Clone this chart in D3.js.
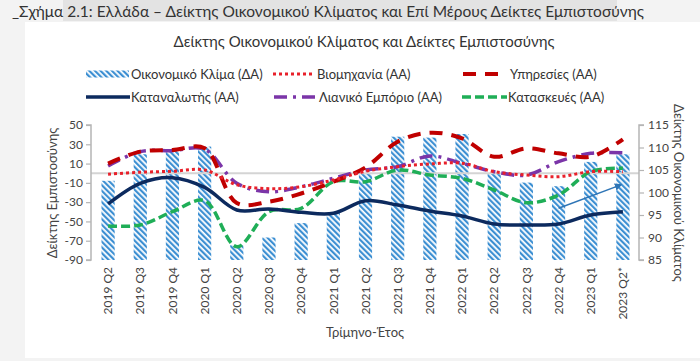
<!DOCTYPE html>
<html><head><meta charset="utf-8">
<script src="https://cdn.jsdelivr.net/npm/d3@7"></script>
<style>
html,body{margin:0;padding:0;background:#f3f3f3;}
svg{display:block;font-family:Lato,"Open Sans",sans-serif;}
</style></head>
<body>
<svg id="c" width="700" height="361"></svg>
<script>
// ---------- data ----------
const categories = ["2019 Q2","2019 Q3","2019 Q4","2020 Q1","2020 Q2","2020 Q3","2020 Q4","2021 Q1","2021 Q2","2021 Q3","2021 Q4","2022 Q1","2022 Q2","2022 Q3","2022 Q4","2023 Q1","2023 Q2*"];
const climate      = [102.6,108.5,109.6,110.2,88.3,90.0,93.2,95.5,104.3,112.4,112.2,113.0,104.3,102.2,101.4,106.8,108.5];
const industry     = [-1,1,2,3.3,-12,-16,-14,-7,2,6.8,9.6,10.3,1.6,-1.9,-3.6,1.6,1.6];
const services     = [10,22.4,24.1,25.8,-31,-29.5,-21,-8.8,6,32.7,42,36.2,17.1,25.8,20.6,17.1,35.2];
const consumer     = [-31.9,-10.5,-4.6,-14.7,-38.1,-37.1,-40.6,-41.6,-28.5,-33,-39.2,-44.4,-52.7,-53.7,-52.7,-43.3,-39.9];
const retail       = [7.5,22.4,23.4,24.8,-10.5,-19.2,-14,-5.3,3.3,6.8,17.9,10.3,1.6,-1.9,12,20.6,21.3];
const construction = [-54.7,-53.7,-39.9,-28.5,-76.2,-39.9,-36.4,-8.8,-8.8,3.3,-1.9,-5.3,-17.4,-30.6,-22.6,1.6,5.1];
const leftTicks  = [50,30,10,-10,-30,-50,-70,-90];
const rightTicks = [115,110,105,100,95,90,85];
const arrowFrom = {cat:"2022 Q4", value:96.5};
const arrowTo   = {cat:"2023 Q2*", value:101.7};

const headerText = "_Σχήμα 2.1: Ελλάδα – Δείκτης Οικονομικού Κλίματος και Επί Μέρους Δείκτες Εμπιστοσύνης";
const titleText  = "Δείκτης Οικονομικού Κλίματος και Δείκτες Εμπιστοσύνης";
const leftTitle  = "Δείκτης Εμπιστοσύνης";
const rightTitle = "Δείκτης Οικονομικού Κλίματος";
const xTitle     = "Τρίμηνο-Έτος";

// ---------- layout ----------
const svg = d3.select("#c");
const L = 92, R = 639, T = 125, B = 260;

svg.append("rect").attr("x",25).attr("y",22).attr("width",675).attr("height",336).attr("fill","#ffffff");
svg.append("rect").attr("x",63).attr("y",0).attr("width",554).attr("height",21).attr("fill","#e3e3e3");
svg.append("text").attr("x",12).attr("y",17).attr("font-size",15.5).attr("fill","#333")
  .text(headerText);
svg.append("text").attr("x",364).attr("y",47).attr("text-anchor","middle").attr("font-size",15).attr("fill","#333")
  .text(titleText);

const defs = svg.append("defs");
const pat = defs.append("pattern").attr("id","hatch").attr("patternUnits","userSpaceOnUse")
  .attr("width",4).attr("height",4).attr("patternTransform","rotate(-45)");
pat.append("rect").attr("width",4).attr("height",4).attr("fill","#ffffff");
pat.append("rect").attr("width",2.2).attr("height",4).attr("fill","#3c8fd2");
defs.append("marker").attr("id","arr").attr("viewBox","0 0 10 10").attr("refX",8).attr("refY",5)
  .attr("markerWidth",5).attr("markerHeight",5).attr("orient","auto")
  .append("path").attr("d","M0,0L10,5L0,10Z").attr("fill","#2e75b6");

const x = d3.scaleBand().domain(categories).range([L,R]).paddingInner(0.59).paddingOuter(0.295);
const cx = c => x(c) + x.bandwidth()/2;
const yL = d3.scaleLinear().domain([-90,50]).range([B,T]);
const yR = d3.scaleLinear().domain([85,115]).range([B,T]);

// bars
svg.append("g").selectAll("rect").data(categories).join("rect")
  .attr("x", c => x(c)).attr("width", x.bandwidth())
  .attr("y", (c,i) => yR(climate[i])).attr("height", (c,i) => yR(85) - yR(climate[i]))
  .attr("fill","url(#hatch)");

// zero line
svg.append("line").attr("x1",L-1).attr("x2",R).attr("y1",yL(0)).attr("y2",yL(0))
  .attr("stroke","#d4d4d4").attr("stroke-width",2);

// axes
const gl = svg.append("g").attr("transform",`translate(${L-1},0)`)
  .call(d3.axisLeft(yL).tickValues(leftTicks).tickSize(5).tickPadding(3).tickFormat(d => String(d)));
const gr = svg.append("g").attr("transform",`translate(${R},0)`)
  .call(d3.axisRight(yR).tickValues(rightTicks).tickSize(5).tickPadding(4).tickFormat(d => String(d)));
[gl,gr].forEach(g=>{
  g.select(".domain").attr("stroke","#b5b5b5").attr("stroke-width",1.5);
  g.selectAll(".tick line").attr("stroke","#b5b5b5").attr("stroke-width",1.2);
  g.selectAll(".tick text").attr("font-size",12).attr("fill","#444").attr("font-family","Lato");
});
gl.select(".domain").attr("d",`M-5,${T}H0V${B}H-5`);
gr.select(".domain").attr("d",`M5,${T}H0V${B}H5`);

// x labels
svg.append("g").selectAll("text").data(categories).join("text")
  .attr("transform", c => `translate(${cx(c)},267) rotate(-90)`)
  .attr("text-anchor","end").attr("dy","0.35em").attr("font-size",12).attr("fill","#444")
  .text(c => c);

// axis titles
svg.append("text").attr("transform","translate(52,193) rotate(-90)").attr("text-anchor","middle")
  .attr("dy","0.35em").attr("font-size",13).attr("fill","#444").text(leftTitle);
svg.append("text").attr("transform","translate(679,193) rotate(90)").attr("text-anchor","middle")
  .attr("dy","0.35em").attr("font-size",13).attr("fill","#444").text(rightTitle);
svg.append("text").attr("x",365).attr("y",337).attr("text-anchor","middle")
  .attr("font-size",13).attr("fill","#444").text(xTitle);

// lines
const series = [
  {name:"Κατασκευές (ΑΑ)", values:construction, color:"#1fae57", w:3.5, dash:"9,4"},
  {name:"Λιανικό Εμπόριο (ΑΑ)", values:retail, color:"#7b35a8", w:3.5, dash:"13,6,3,6"},
  {name:"Υπηρεσίες (ΑΑ)", values:services, color:"#c00000", w:4, dash:"13,9"},
  {name:"Βιομηχανία (ΑΑ)", values:industry, color:"#e8202a", w:3, dash:"3,3"},
  {name:"Καταναλωτής (ΑΑ)", values:consumer, color:"#0c2a5e", w:3.5, dash:null}
];
const line = d3.line().x((d,i)=>cx(categories[i])).y(d=>yL(d)).curve(d3.curveCatmullRom.alpha(0.5));
series.forEach(s=>{
  svg.append("path").attr("d", line(s.values)).attr("fill","none")
    .attr("stroke",s.color).attr("stroke-width",s.w)
    .attr("stroke-dasharray",s.dash).attr("stroke-linejoin","round");
});

// arrow annotation
svg.append("line").attr("x1",cx(arrowFrom.cat)).attr("y1",yR(arrowFrom.value))
  .attr("x2",cx(arrowTo.cat)-2).attr("y2",yR(arrowTo.value))
  .attr("stroke","#2e75b6").attr("stroke-width",1.5).attr("marker-end","url(#arr)");

// legend
const byName = Object.fromEntries(series.map(s=>[s.name,s]));
const legendItems = [
  {type:"bar", name:"Οικονομικό Κλίμα (ΔΑ)", x1:86, x2:129, tx:131, y:74},
  {type:"line", name:"Βιομηχανία (ΑΑ)", x1:273, x2:315, tx:317, y:74},
  {type:"line", name:"Υπηρεσίες (ΑΑ)", x1:463, x2:498, tx:510, y:74},
  {type:"line", name:"Καταναλωτής (ΑΑ)", x1:86, x2:130, tx:131, y:97},
  {type:"line", name:"Λιανικό Εμπόριο (ΑΑ)", x1:274, x2:319, tx:319, y:97},
  {type:"line", name:"Κατασκευές (ΑΑ)", x1:462, x2:507, tx:508, y:97}
];
const lg = svg.append("g");
legendItems.forEach(it=>{
  if(it.type==="bar"){
    lg.append("rect").attr("x",it.x1).attr("y",it.y-3.5).attr("width",it.x2-it.x1).attr("height",7).attr("fill","url(#hatch)");
  } else {
    const s = byName[it.name];
    lg.append("line").attr("x1",it.x1).attr("x2",it.x2).attr("y1",it.y).attr("y2",it.y)
      .attr("stroke",s.color).attr("stroke-width",s.w).attr("stroke-dasharray",s.dash);
  }
  lg.append("text").attr("x",it.tx).attr("y",it.y).attr("dy","0.35em").attr("font-size",13)
    .attr("fill","#333").text(it.name);
});
</script>
</body></html>
